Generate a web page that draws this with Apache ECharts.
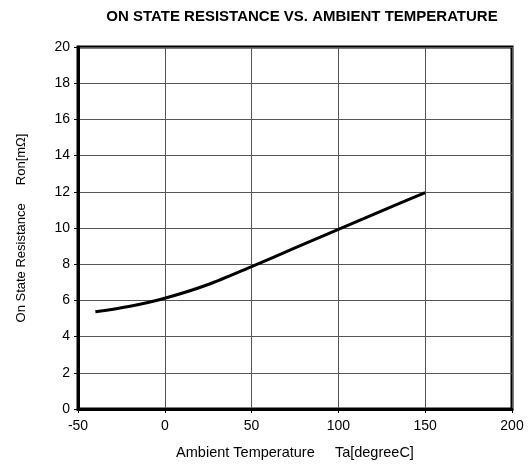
<!DOCTYPE html>
<html>
<head>
<meta charset="utf-8">
<script src="https://cdn.jsdelivr.net/npm/echarts@6/dist/echarts.min.js"></script>
<style>
  html, body { margin: 0; padding: 0; background: #fff; }
  #chart { width: 530px; height: 469px; }
</style>
</head>
<body>
<div id="chart"></div>
<script>
// Ambient temperature (°C) and on-state resistance (mΩ)
const temperature = [-40, -20, 0, 25, 50, 75, 100, 125, 150];
const resistance = [5.37, 5.68, 6.12, 6.88, 7.87, 8.9, 9.92, 10.95, 11.95];

const chart = echarts.init(document.getElementById('chart'), null, { renderer: 'canvas' });
const font = '"Liberation Sans", Arial, sans-serif';

chart.setOption({
  animation: false,
  backgroundColor: '#ffffff',
  title: {
    text: 'ON STATE RESISTANCE VS. AMBIENT TEMPERATURE',
    left: 297,
    top: 4,
    textAlign: 'center',
    textStyle: { fontFamily: font, fontSize: 15, fontWeight: 'bold', color: '#000' }
  },
  grid: {
    left: 78, right: 18, top: 47, bottom: 60,
    show: true, borderColor: '#000', borderWidth: 3, backgroundColor: 'transparent'
  },
  xAxis: {
    type: 'value',
    min: -50, max: 200, interval: 50,
    name: 'Ambient Temperature     Ta[degreeC]',
    nameLocation: 'middle',
    nameGap: 36,
    nameTextStyle: { fontFamily: font, fontSize: 14.5, color: '#000' },
    axisLine: { show: true, onZero: false, lineStyle: { color: '#000', width: 3 } },
    axisTick: { show: true, length: 4, lineStyle: { color: '#000', width: 1 } },
    axisLabel: { fontFamily: font, fontSize: 14, color: '#000', margin: 10 },
    splitLine: { show: true, lineStyle: { color: '#555', width: 1 } }
  },
  yAxis: {
    type: 'value',
    min: 0, max: 20, interval: 2,
    name: 'On State Resistance     Ron[mΩ]',
    nameLocation: 'middle',
    nameGap: 50,
    nameTextStyle: { fontFamily: font, fontSize: 13, color: '#000' },
    axisLine: { show: true, onZero: false, lineStyle: { color: '#000', width: 3 } },
    axisTick: { show: true, length: 4, lineStyle: { color: '#000', width: 1 } },
    axisLabel: { fontFamily: font, fontSize: 14, color: '#000', margin: 8 },
    splitLine: { show: true, lineStyle: { color: '#555', width: 1 } }
  },
  series: [{
    type: 'line',
    data: temperature.map((t, i) => [t, resistance[i]]),
    smooth: 0.3,
    showSymbol: false,
    lineStyle: { color: '#000', width: 3 }
  }]
});
</script>
</body>
</html>
